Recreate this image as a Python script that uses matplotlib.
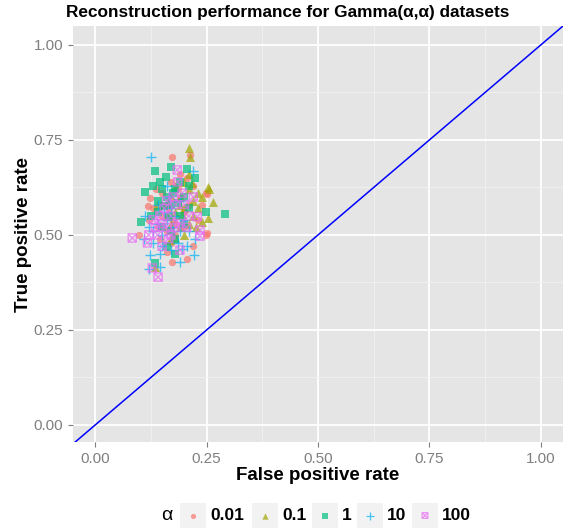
import numpy as np
import matplotlib.pyplot as plt
from matplotlib.path import Path
from matplotlib.patches import Rectangle

plt.rcParams['font.family'] = ['Liberation Sans', 'DejaVu Sans']

# 数据：各 alpha 组的 (FPR, TPR)
alphas = ['0.01', '0.1', '1', '10', '100']
colors = ['#F8766D', '#A3A500', '#00BF7D', '#00B0F6', '#E76BF3']

fpr_001 = [0.173, 0.213, 0.137, 0.249, 0.249, 0.099, 0.161, 0.173, 0.206, 0.220, 0.251, 0.123,
           0.119, 0.251, 0.150, 0.160, 0.180, 0.190, 0.170, 0.200, 0.140, 0.210, 0.180, 0.160,
           0.220, 0.130, 0.190, 0.230, 0.150, 0.170, 0.200, 0.120, 0.240, 0.165, 0.185, 0.145,
           0.205, 0.175]
tpr_001 = [0.705, 0.710, 0.620, 0.610, 0.500, 0.500, 0.455, 0.430, 0.437, 0.470, 0.505, 0.597,
           0.576, 0.608, 0.550, 0.580, 0.530, 0.600, 0.640, 0.560, 0.520, 0.580, 0.500, 0.510,
           0.630, 0.570, 0.660, 0.540, 0.610, 0.480, 0.520, 0.540, 0.580, 0.570, 0.620, 0.490,
           0.650, 0.540]

fpr_01 = [0.211, 0.213, 0.256, 0.265, 0.253, 0.240, 0.217, 0.135, 0.168, 0.180, 0.139, 0.253,
          0.190, 0.200, 0.210, 0.220, 0.180, 0.230, 0.170, 0.200, 0.210, 0.190, 0.220, 0.160,
          0.230, 0.180, 0.200, 0.150, 0.240, 0.190, 0.210, 0.170, 0.225, 0.195]
tpr_01 = [0.729, 0.705, 0.621, 0.587, 0.545, 0.534, 0.637, 0.416, 0.487, 0.492, 0.579, 0.626,
          0.600, 0.570, 0.620, 0.590, 0.560, 0.610, 0.600, 0.640, 0.530, 0.520, 0.550, 0.550,
          0.570, 0.630, 0.500, 0.580, 0.600, 0.580, 0.660, 0.530, 0.520, 0.555]

fpr_1 = [0.135, 0.170, 0.159, 0.112, 0.206, 0.224, 0.249, 0.291, 0.135, 0.103, 0.150, 0.160,
         0.170, 0.180, 0.140, 0.190, 0.150, 0.170, 0.200, 0.160, 0.180, 0.140, 0.210, 0.190,
         0.130, 0.165, 0.185, 0.155, 0.175, 0.200, 0.145, 0.125, 0.210, 0.180]
tpr_1 = [0.668, 0.679, 0.653, 0.613, 0.674, 0.650, 0.560, 0.555, 0.426, 0.534, 0.620, 0.600,
         0.580, 0.620, 0.560, 0.550, 0.520, 0.510, 0.600, 0.470, 0.450, 0.590, 0.570, 0.640,
         0.630, 0.550, 0.585, 0.575, 0.610, 0.530, 0.640, 0.550, 0.630, 0.490]

fpr_10 = [0.126, 0.220, 0.224, 0.195, 0.222, 0.190, 0.112, 0.123, 0.146, 0.120, 0.140, 0.150,
          0.160, 0.170, 0.130, 0.180, 0.190, 0.150, 0.165, 0.200, 0.140, 0.120, 0.175, 0.210,
          0.155, 0.185, 0.130, 0.160, 0.190, 0.145, 0.205, 0.110, 0.170]
tpr_10 = [0.705, 0.668, 0.490, 0.463, 0.447, 0.429, 0.550, 0.447, 0.416, 0.410, 0.530, 0.500,
          0.540, 0.570, 0.510, 0.550, 0.590, 0.470, 0.600, 0.540, 0.580, 0.520, 0.520, 0.510,
          0.560, 0.480, 0.480, 0.630, 0.510, 0.450, 0.470, 0.490, 0.460]

fpr_100 = [0.083, 0.117, 0.128, 0.141, 0.190, 0.235, 0.184, 0.229, 0.235, 0.150, 0.160, 0.170,
           0.180, 0.140, 0.190, 0.200, 0.155, 0.165, 0.175, 0.130, 0.210, 0.185, 0.145, 0.120,
           0.160, 0.195, 0.170, 0.150, 0.220, 0.135, 0.205, 0.180]
tpr_100 = [0.492, 0.479, 0.413, 0.389, 0.460, 0.497, 0.671, 0.548, 0.513, 0.530, 0.520, 0.550,
           0.580, 0.500, 0.530, 0.580, 0.570, 0.490, 0.600, 0.540, 0.550, 0.640, 0.550, 0.500,
           0.590, 0.610, 0.500, 0.470, 0.600, 0.520, 0.520, 0.520]

groups = [(fpr_001, tpr_001), (fpr_01, tpr_01), (fpr_1, tpr_1), (fpr_10, tpr_10), (fpr_100, tpr_100)]

# 方框加叉的标记（ggplot shape 7）
sq_x = Path([(-1, -1), (1, -1), (1, 1), (-1, 1), (-1, -1), (-1, -1), (1, 1), (-1, 1), (1, -1)],
            [Path.MOVETO, Path.LINETO, Path.LINETO, Path.LINETO, Path.CLOSEPOLY,
             Path.MOVETO, Path.LINETO, Path.MOVETO, Path.LINETO])
markers = ['o', '^', 's', '+', sq_x]
sizes = [28, 42, 40, 60, 34]
kind = ['fill', 'fill', 'fill', 'line', 'open']


def draw_points(a, xs, ys, m, c, s, k, lw=1.0):
    if k == 'fill':
        a.scatter(xs, ys, marker=m, s=s, color=c, alpha=0.7, linewidths=0, zorder=3)
    elif k == 'line':
        a.scatter(xs, ys, marker=m, s=s, color=c, alpha=0.7, linewidths=lw, zorder=3)
    else:
        a.scatter(xs, ys, marker=m, s=s, facecolors='none', edgecolors=c, alpha=0.7,
                  linewidths=lw, zorder=3)


fig = plt.figure(figsize=(5.76, 5.29), dpi=100)
ax = fig.add_axes([73 / 576, 1 - 442 / 529, 490 / 576, 416 / 529])
ax.set_facecolor('#E5E5E5')

for (xs, ys), m, c, s, k in zip(groups, markers, colors, sizes, kind):
    draw_points(ax, xs, ys, m, c, s, k)

ax.axline((0, 0), slope=1, color='blue', lw=1.1, zorder=4)

ax.set_xlim(-0.05, 1.05)
ax.set_ylim(-0.045, 1.05)
ticks = [0, 0.25, 0.5, 0.75, 1.0]
ax.set_xticks(ticks)
ax.set_yticks(ticks)
ax.set_xticks([0.125, 0.375, 0.625, 0.875], minor=True)
ax.set_yticks([0.125, 0.375, 0.625, 0.875], minor=True)
ax.set_xticklabels(['0.00', '0.25', '0.50', '0.75', '1.00'])
ax.set_yticklabels(['0.00', '0.25', '0.50', '0.75', '1.00'])
ax.grid(which='major', color='white', lw=1.3)
ax.grid(which='minor', color='#F2F2F2', lw=0.6)
ax.set_axisbelow(True)
for sp in ax.spines.values():
    sp.set_visible(False)
ax.tick_params(which='major', length=3.5, color='#7F7F7F', labelcolor='#7F7F7F', labelsize=11)
ax.tick_params(which='minor', length=0)

ax.set_xlabel('False positive rate', fontsize=13.5, fontweight='bold', labelpad=1)
ax.set_ylabel('True positive rate', fontsize=13.5, fontweight='bold', labelpad=1)
fig.text(0.5, 1 - 13 / 529, 'Reconstruction performance for Gamma(\u03b1,\u03b1) datasets',
         fontsize=12.4, fontweight='bold', ha='center', va='center')

# 底部图例（像素坐标）
leg = fig.add_axes([0, 0, 1, 1], zorder=-1)
leg.set_xlim(0, 576)
leg.set_ylim(529, 0)
leg.axis('off')
leg.text(167, 516, '\u03b1', fontsize=14, ha='center', va='center')
box_x = [180, 252, 312, 357, 412]
for bx, lab, m, c, s, k in zip(box_x, alphas, markers, colors, sizes, kind):
    leg.add_patch(Rectangle((bx, 503), 26, 25, color='#F2F2F2', lw=0))
    draw_points(leg, [bx + 13], [515.5], m, c, s * 0.5, k, lw=0.9)
    leg.text(bx + 30, 516, lab, fontsize=12.5, fontweight='bold', ha='left', va='center')

fig.savefig('out.png', dpi=100)
